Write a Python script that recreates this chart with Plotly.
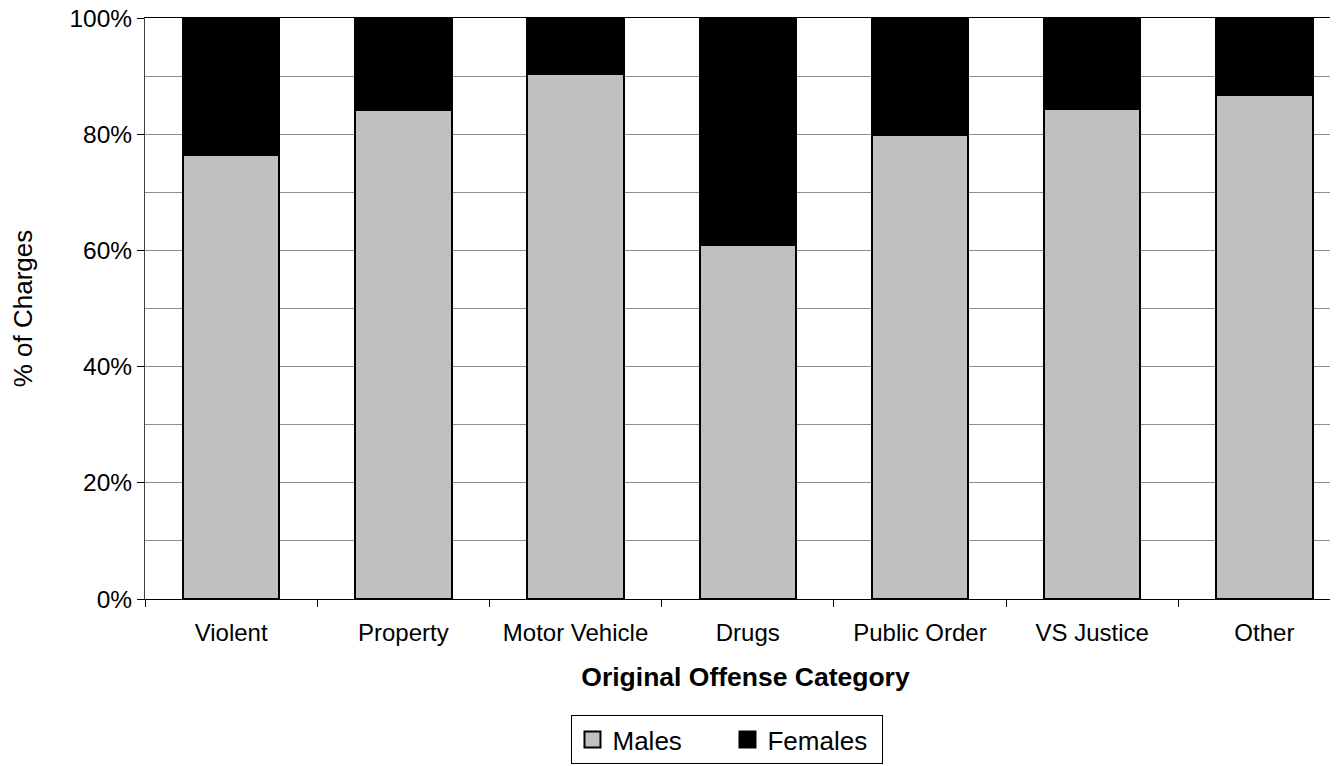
import plotly.graph_objects as go

categories = ["Violent", "Property", "Motor Vehicle", "Drugs", "Public Order", "VS Justice", "Other"]
males = [0.764, 0.842, 0.904, 0.609, 0.799, 0.843, 0.867]
females = [round(1 - m, 3) for m in males]

series_names = ["Males", "Females"]
series_colors = ["#C0C0C0", "#000000"]

font = "Liberation Sans, Arial, sans-serif"

fig = go.Figure()
for name, vals, col in zip(series_names, [males, females], series_colors):
    fig.add_trace(go.Bar(x=categories, y=vals, name=name, showlegend=False,
                         marker=dict(color=col, line=dict(color="black", width=2))))
# legend-only entries with larger square swatches
for name, col in zip(series_names, series_colors):
    fig.add_trace(go.Scatter(x=[None], y=[None], mode="markers", name=name,
                             marker=dict(symbol="square", size=16, color=col,
                                         line=dict(color="black", width=2))))

# browser body margin is 8px: figure origin at screen (8, 8)
fig.update_layout(
    width=1338, height=766,
    barmode="stack", bargap=0.44,
    plot_bgcolor="white", paper_bgcolor="white",
    margin=dict(l=137, r=0, t=10, b=175),
    font=dict(family=font, size=24, color="black"),
    showlegend=True,
    legend=dict(orientation="h", x=0.485, xanchor="center", y=-0.2, yanchor="top",
                bordercolor="black", borderwidth=1, font=dict(size=26),
                traceorder="normal", itemsizing="trace", entrywidth=110),
)
fig.update_xaxes(
    range=[-0.5, 6.474], showline=True, linecolor="black", linewidth=1, mirror=True,
    ticks="outside", tickson="boundaries", ticklen=7, tickcolor="black",
    ticklabelstandoff=12, automargin=False,
    title=dict(text="<b>Original Offense Category</b>", font=dict(size=26.5), standoff=22),
    tickfont=dict(size=24), showgrid=False,
)
fig.update_yaxes(
    range=[0, 1], tickformat=".0%", dtick=0.2, showline=True, linecolor="#404040", linewidth=1,
    ticks="outside", ticklen=7, tickcolor="black", ticklabeloverflow="allow", automargin=False,
    showgrid=True, gridcolor="#8c8c8c", gridwidth=1,
    minor=dict(dtick=0.1, showgrid=True, gridcolor="#8c8c8c", gridwidth=1, ticks=""),
    title=dict(text="% of Charges", font=dict(size=26), standoff=30),
    tickfont=dict(size=24.5), zeroline=False,
)

fig.write_html("out.html")
